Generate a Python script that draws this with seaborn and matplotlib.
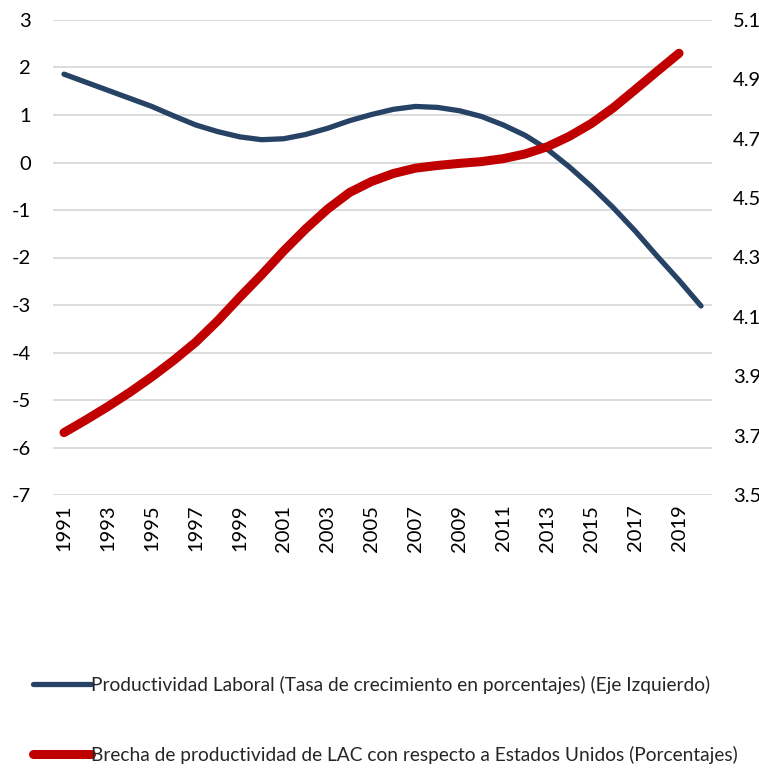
import matplotlib
matplotlib.use("Agg")
import matplotlib.pyplot as plt
import seaborn as sns
import pandas as pd
from matplotlib.lines import Line2D

# Years on the category axis
years = list(range(1991, 2021))

# Labour productivity growth (left axis, %)
productividad = [1.86, 1.69, 1.52, 1.35, 1.18, 0.98, 0.79, 0.65, 0.54, 0.48,
                 0.50, 0.59, 0.72, 0.88, 1.01, 1.12, 1.18, 1.16, 1.09, 0.97,
                 0.79, 0.57, 0.28, -0.09, -0.50, -0.95, -1.44, -1.97, -2.48, -3.02]

# LAC productivity gap vs United States (right axis, %), no 2020 value
brecha = [3.710, 3.753, 3.798, 3.846, 3.898, 3.954, 4.015, 4.087, 4.166, 4.242,
          4.322, 4.396, 4.463, 4.519, 4.556, 4.583, 4.601, 4.610, 4.617, 4.623,
          4.633, 4.649, 4.673, 4.708, 4.751, 4.804, 4.865, 4.927, 4.988, None]

left_ticks = [3, 2, 1, 0, -1, -2, -3, -4, -5, -6, -7]
right_ticks = [5.1, 4.9, 4.7, 4.5, 4.3, 4.1, 3.9, 3.7, 3.5]

lab_prod = "Productividad Laboral (Tasa de crecimiento en porcentajes) (Eje Izquierdo)"
lab_brecha = "Brecha de productividad de LAC con respecto a Estados Unidos (Porcentajes)"

df = pd.DataFrame({"Año": years, "Productividad": productividad,
                   "Brecha": pd.array(brecha, dtype="Float64")})

sns.set_style("white")
plt.rcParams["font.family"] = ["Lato", "DejaVu Sans"]

blue = "#264365"
red = "#C00000"

fig = plt.figure(figsize=(7.59, 7.71), dpi=100)
ax = fig.add_axes([53 / 759, 1 - 495 / 771, 659 / 759, 475 / 771])
ax2 = ax.twinx()

sns.lineplot(data=df, x="Año", y="Productividad", ax=ax, color=blue, linewidth=3.8,
             solid_capstyle="round")
sns.lineplot(data=df.dropna(), x="Año", y="Brecha", ax=ax2, color=red, linewidth=6.5,
             solid_capstyle="round")

ax.set_xlim(1990.5, 2020.5)
ax.set_ylim(-7, 3)
ax.set_yticks(left_ticks)
ax.set_yticklabels([str(t) for t in left_ticks])
ax2.set_ylim(3.5, 5.1)
ax2.set_yticks(right_ticks)
ax2.set_yticklabels([f"{t:.1f}" for t in right_ticks])

ax.set_xticks(years[::2])
ax.set_xticklabels([str(y) for y in years[::2]], rotation=90)

ax.grid(axis="y", color="#D9D9D9", linewidth=1.3)
ax.set_axisbelow(True)
ax.set_xlabel("")
ax.set_ylabel("")
ax2.set_ylabel("")

for a in (ax, ax2):
    for s in a.spines.values():
        s.set_visible(False)
    a.tick_params(length=0, labelsize=14.5, colors="black")
ax.tick_params(axis="y", pad=16)
ax.tick_params(axis="x", pad=7)
ax2.tick_params(axis="y", pad=15)

handles = [Line2D([], [], color=blue, linewidth=3.8, solid_capstyle="round"),
           Line2D([], [], color=red, linewidth=6.5, solid_capstyle="round")]
fig.legend(handles, [lab_prod, lab_brecha], loc="upper left",
           bbox_to_anchor=(33 / 759, 1 - 676 / 771), frameon=False,
           fontsize=13.8, handlelength=3.0, handletextpad=0.05,
           labelspacing=2.7, borderpad=0, borderaxespad=0)

fig.savefig("out.png", dpi=100)
